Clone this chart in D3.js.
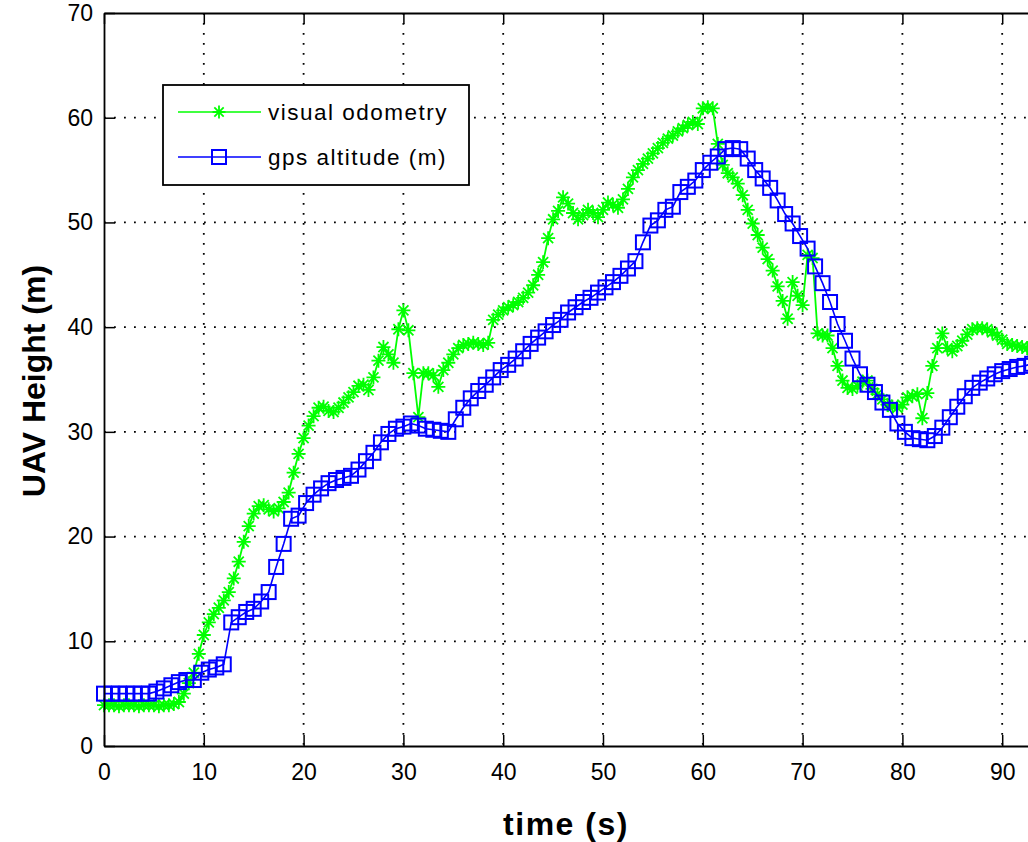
<!DOCTYPE html>
<html>
<head>
<meta charset="utf-8">
<script src="https://cdn.jsdelivr.net/npm/d3@7/dist/d3.min.js"></script>
<style>
body { margin: 0; background: #fff; }
text { font-family: "Liberation Sans", Arial, sans-serif; }
</style>
</head>
<body>
<div id="chart"></div>
<script>
// visual odometry (green stars)
var voTime = [
	0,0.5,1,1.5,2,2.5,3,3.5,4,4.5,
	5,5.5,6,6.5,7,7.5,8,8.5,9,9.5,
	10,10.5,11,11.5,12,12.5,13,13.5,14,14.5,
	15,15.5,16,16.5,17,17.5,18,18.5,19,19.5,
	20,20.5,21,21.5,22,22.5,23,23.5,24,24.5,
	25,25.5,26,26.5,27,27.5,28,28.5,29,29.5,
	30,30.5,31,31.5,32,32.5,33,33.5,34,34.5,
	35,35.5,36,36.5,37,37.5,38,38.5,39,39.5,
	40,40.5,41,41.5,42,42.5,43,43.5,44,44.5,
	45,45.5,46,46.5,47,47.5,48,48.5,49,49.5,
	50,50.5,51,51.5,52,52.5,53,53.5,54,54.5,
	55,55.5,56,56.5,57,57.5,58,58.5,59,59.5,
	60,60.5,61,61.5,62,62.5,63,63.5,64,64.5,
	65,65.5,66,66.5,67,67.5,68,68.5,69,69.5,
	70,70.5,71,71.5,72,72.5,73,73.5,74,74.5,
	75,75.5,76,76.5,77,77.5,78,78.5,79,79.5,
	80,80.5,81,81.5,82,82.5,83,83.5,84,84.5,
	85,85.5,86,86.5,87,87.5,88,88.5,89,89.5,
	90,90.5,91,91.5,92,92.5,93
];
var voHeight = [
	3.9,3.9,3.9,3.8,3.9,3.9,3.9,3.8,3.9,3.9,
	3.9,3.8,3.9,3.9,4.0,4.2,5.0,6.0,7.0,8.8,
	10.6,11.8,12.6,13.2,13.9,14.7,16.0,17.6,19.5,21.0,
	22.2,22.9,23.0,22.6,22.4,22.7,23.3,24.2,26.1,27.9,
	29.4,30.6,31.5,32.3,32.4,32.0,31.9,32.3,32.8,33.3,
	33.8,34.4,34.5,34.0,35.2,36.8,38.1,37.4,36.6,39.8,
	41.6,39.7,35.6,31.4,35.6,35.6,35.4,34.3,35.9,36.6,
	37.4,38.0,38.3,38.4,38.5,38.4,38.3,38.5,40.7,41.2,
	41.6,41.9,42.1,42.4,42.8,43.3,44.0,45.0,46.2,48.5,
	50.3,51.1,52.4,51.8,50.9,50.3,50.7,51.2,50.9,50.5,
	51.2,51.9,51.7,51.4,52.2,53.2,54.3,55.0,55.6,56.1,
	56.6,57.1,57.6,58.0,58.3,58.7,59.0,59.3,59.6,59.4,
	60.9,61.0,60.9,57.5,55.5,54.7,54.3,53.7,52.6,51.2,
	49.9,48.8,47.6,46.5,45.4,43.9,42.5,40.8,44.3,43.0,
	42.1,46.9,46.6,39.4,39.2,39.2,38.0,36.3,34.9,34.2,
	34.1,34.4,34.8,34.9,34.1,33.6,33.1,32.6,32.4,32.3,
	32.6,33.3,33.4,33.6,31.3,33.7,36.3,38.0,39.4,38.0,
	37.7,38.2,38.7,39.3,39.8,39.9,39.9,39.8,39.5,39.2,
	38.8,38.4,38.3,38.2,38.1,38.0,37.8
];

// gps altitude (blue squares)
var gpsTime = [
	0,0.75,1.5,2.25,3,3.75,4.5,5.25,
	6,6.75,7.5,8.25,9,9.75,10.5,11.25,
	12,12.75,13.5,14.25,15,15.75,16.5,17.25,
	18,18.75,19.5,20.25,21,21.75,22.5,23.25,
	24,24.75,25.5,26.25,27,27.75,28.5,29.25,
	30,30.75,31.5,32.25,33,33.75,34.5,35.25,
	36,36.75,37.5,38.25,39,39.75,40.5,41.25,
	42,42.75,43.5,44.25,45,45.75,46.5,47.25,
	48,48.75,49.5,50.25,51,51.75,52.5,53.25,
	54,54.75,55.5,56.25,57,57.75,58.5,59.25,
	60,60.75,61.5,62.25,63,63.75,64.5,65.25,
	66,66.75,67.5,68.25,69,69.75,70.5,71.25,
	72,72.75,73.5,74.25,75,75.75,76.5,77.25,
	78,78.75,79.5,80.25,81,81.75,82.5,83.25,
	84,84.75,85.5,86.25,87,87.75,88.5,89.25,
	90,90.75,91.5,92.25,93
];
var gpsHeight = [
	5.0,5.0,5.0,5.0,5.0,5.0,5.0,5.2,
	5.5,5.8,6.1,6.3,6.3,7.0,7.3,7.5,
	7.8,11.8,12.3,12.8,13.1,13.8,14.7,17.1,
	19.3,21.7,22.0,23.2,24.0,24.6,25.1,25.4,
	25.6,25.8,26.4,27.2,28.0,29.0,29.8,30.3,
	30.5,30.8,30.6,30.3,30.2,30.1,30.0,31.2,
	32.3,33.2,33.9,34.5,35.2,35.9,36.4,37.0,
	37.7,38.4,39.0,39.6,40.2,40.7,41.4,41.9,
	42.4,42.8,43.3,43.8,44.3,44.9,45.6,46.3,
	48.1,49.7,50.2,51.2,51.5,52.9,53.4,54.0,
	55.0,55.7,56.3,57.0,57.1,57.0,56.1,55.0,
	54.2,53.3,52.1,50.8,49.9,48.7,47.5,45.8,
	44.2,42.4,40.3,38.7,37.0,35.5,34.5,33.8,
	32.8,32.1,30.8,30.0,29.4,29.3,29.2,29.6,
	30.4,31.4,32.4,33.4,34.2,34.7,35.1,35.5,
	35.8,36.0,36.2,36.3,36.5
];

var xTicks = [0,10,20,30,40,50,60,70,80,90];
var yTicks = [0,10,20,30,40,50,60,70];
var legendLabels = ["visual odometry", "gps altitude (m)"];

var W = 1028, H = 842;
var plotLeft = 104, plotTop = 13, plotRight = 1102, plotBottom = 746;
var green = "#00ff00", blue = "#0000ff";

var svg = d3.select("#chart").append("svg")
	.attr("width", W).attr("height", H)
	.style("background", "#fff");

var x = d3.scaleLinear().domain([0,100]).range([plotLeft, plotRight]);
var y = d3.scaleLinear().domain([0,70]).range([plotBottom, plotTop]);

// grid
var grid = svg.append("g").attr("class","grid");
grid.selectAll(".gx").data(xTicks.slice(1)).enter().append("line")
	.attr("x1", function(d){ return x(d); }).attr("x2", function(d){ return x(d); })
	.attr("y1", plotTop).attr("y2", plotBottom)
	.attr("stroke","#000").attr("stroke-width",1.8).attr("stroke-dasharray","1.8,8.2");
grid.selectAll(".gy").data(yTicks.slice(1, -1)).enter().append("line")
	.attr("x1", plotLeft).attr("x2", plotRight)
	.attr("y1", function(d){ return y(d); }).attr("y2", function(d){ return y(d); })
	.attr("stroke","#000").attr("stroke-width",1.8).attr("stroke-dasharray","1.8,8.2");

svg.append("clipPath").attr("id","clip").append("rect")
	.attr("x", plotLeft - 8).attr("y", plotTop - 8)
	.attr("width", plotRight - plotLeft + 16).attr("height", plotBottom - plotTop + 16);

var plot = svg.append("g").attr("clip-path","url(#clip)");

var voData = voTime.map(function(t,i){ return {t:t, v:voHeight[i]}; });
var gpsData = gpsTime.map(function(t,i){ return {t:t, v:gpsHeight[i]}; });

var line = d3.line()
	.x(function(d){ return x(d.t); })
	.y(function(d){ return y(d.v); });

var starPath = function(r){
	var q = r * 0.72;
	return "M" + (-r) + ",0H" + r + "M0," + (-r) + "V" + r +
		"M" + (-q) + "," + (-q) + "L" + q + "," + q +
		"M" + (-q) + "," + q + "L" + q + "," + (-q);
};

// green series
plot.append("path")
	.attr("d", line(voData))
	.attr("fill","none").attr("stroke", green).attr("stroke-width",1.8);
plot.selectAll(".star").data(voData).enter().append("path")
	.attr("class","star")
	.attr("transform", function(d){ return "translate(" + x(d.t) + "," + y(d.v) + ")"; })
	.attr("d", starPath(7))
	.attr("fill","none").attr("stroke", green).attr("stroke-width",1.8);

// blue series
plot.append("path")
	.attr("d", line(gpsData))
	.attr("fill","none").attr("stroke", blue).attr("stroke-width",1.6);
plot.selectAll(".sq").data(gpsData).enter().append("rect")
	.attr("class","sq")
	.attr("x", function(d){ return x(d.t) - 7; })
	.attr("y", function(d){ return y(d.v) - 7; })
	.attr("width",14).attr("height",14)
	.attr("fill","none").attr("stroke", blue).attr("stroke-width",2);

// axes
var xAxis = d3.axisBottom(x).tickValues(xTicks).tickSizeInner(-11).tickSizeOuter(0).tickPadding(18);
var xAxisTop = d3.axisTop(x).tickValues(xTicks).tickSizeInner(-11).tickSizeOuter(0).tickFormat("");
var yAxis = d3.axisLeft(y).tickValues(yTicks).tickSizeInner(-11).tickSizeOuter(0).tickPadding(11);

var gx = svg.append("g").attr("transform","translate(0," + plotBottom + ")").call(xAxis);
var gxt = svg.append("g").attr("transform","translate(0," + plotTop + ")").call(xAxisTop);
var gy = svg.append("g").attr("transform","translate(" + plotLeft + ",0)").call(yAxis);

[gx, gxt, gy].forEach(function(g){
	g.select(".domain").attr("stroke","#000").attr("stroke-width",1.8);
	g.selectAll(".tick line").attr("stroke","#000").attr("stroke-width",1.5);
	g.selectAll(".tick text")
		.attr("fill","#000")
		.style("font-family","'Liberation Sans', Arial, sans-serif")
		.style("font-size","23px");
});

// axis titles
svg.append("text")
	.attr("x", 566).attr("y", 835)
	.attr("text-anchor","middle")
	.style("font-size","32px").style("font-weight","bold")
	.style("letter-spacing","1.5px")
	.text("time (s)");

svg.append("text")
	.attr("transform","translate(45,381) rotate(-90)")
	.attr("text-anchor","middle")
	.style("font-size","32px").style("font-weight","bold")
	.text("UAV Height (m)");

// legend
var legend = svg.append("g");
legend.append("rect")
	.attr("x",163).attr("y",85).attr("width",306).attr("height",100)
	.attr("fill","#fff").attr("stroke","#000").attr("stroke-width",1.8);

var rows = [{label: legendLabels[0], color: green, y: 112},
            {label: legendLabels[1], color: blue, y: 157}];
rows.forEach(function(r, i){
	legend.append("line")
		.attr("x1",178).attr("x2",261).attr("y1",r.y).attr("y2",r.y)
		.attr("stroke", r.color).attr("stroke-width",1.6);
	if(i == 0){
		legend.append("path")
			.attr("transform","translate(219," + r.y + ")")
			.attr("d", starPath(6.5))
			.attr("fill","none").attr("stroke", r.color).attr("stroke-width",1.8);
	}else{
		legend.append("rect")
			.attr("x",212).attr("y",r.y - 7).attr("width",14).attr("height",14)
			.attr("fill","none").attr("stroke", r.color).attr("stroke-width",2);
	}
	legend.append("text")
		.attr("x",268).attr("y",r.y + 8)
		.style("font-size","22.5px").style("letter-spacing","1.5px")
		.attr("fill","#000")
		.text(r.label);
});
</script>
</body>
</html>
